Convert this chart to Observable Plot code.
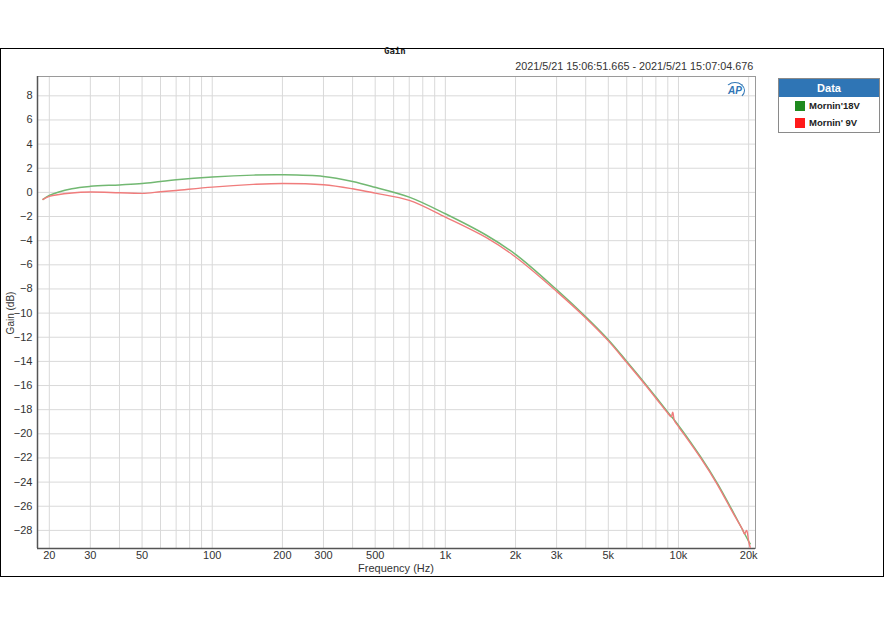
<!DOCTYPE html>
<html>
<head>
<meta charset="utf-8">
<script src="https://cdn.jsdelivr.net/npm/d3@7"></script>
<script src="https://cdn.jsdelivr.net/npm/@observablehq/plot@0.6"></script>
<style>
  body { margin: 0; background: #fff; }
  #wrap { position: relative; width: 889px; height: 630px; font-family: "Liberation Sans", Arial, sans-serif; }
  #wrap svg { position: absolute; left: 0; top: 0; }
  .abs { position: absolute; white-space: nowrap; }
</style>
</head>
<body>
<div id="wrap"></div>
<script>
// ---- data ----
const freqs18 = [18.8, 20, 25, 30, 40, 50, 60, 70, 100, 150, 200, 300, 400, 500, 700, 1000, 1500, 2000, 3000, 4000, 5000, 6000, 7000, 8000, 9000, 10000, 12440, 14680, 17300, 20000, 20300];
const gain18  = [-0.58, -0.25, 0.3, 0.5, 0.62, 0.73, 0.9, 1.04, 1.27, 1.43, 1.46, 1.32, 0.9, 0.42, -0.39, -1.77, -3.55, -5.13, -8.05, -10.3, -12.2, -14.0, -15.55, -16.95, -18.2, -19.3, -21.9, -24.1, -26.6, -28.9, -29.1];

const freqs9 = [18.8, 20, 25, 30, 40, 50, 60, 70, 100, 150, 200, 300, 400, 500, 700, 1000, 1500, 2000, 3000, 4000, 5000, 6000, 7000, 8000, 9000, 9300, 9450, 9600, 10000, 12440, 14680, 17300, 18800, 19200, 19600, 20000, 20300];
const gain9  = [-0.58, -0.33, -0.05, 0.03, -0.03, -0.08, 0.05, 0.16, 0.44, 0.66, 0.74, 0.63, 0.3, -0.06, -0.66, -2.04, -3.75, -5.35, -8.2, -10.4, -12.3, -14.1, -15.65, -17.05, -18.3, -18.6, -18.2, -18.9, -19.4, -22.0, -24.2, -26.7, -27.9, -28.3, -28.0, -28.9, -29.4];

const xTicks = [20, 30, 50, 100, 200, 300, 500, 1000, 2000, 3000, 5000, 10000, 20000];
const xTickLabels = ["20", "30", "50", "100", "200", "300", "500", "1k", "2k", "3k", "5k", "10k", "20k"];
const xGrid = [20, 30, 40, 50, 60, 70, 80, 90, 100, 200, 300, 400, 500, 600, 700, 800, 900, 1000, 2000, 3000, 4000, 5000, 6000, 7000, 8000, 9000, 10000, 20000];
const yTicks = [8, 6, 4, 2, 0, -2, -4, -6, -8, -10, -12, -14, -16, -18, -20, -22, -24, -26, -28];

const seriesNames = ["Mornin'18V", "Mornin' 9V"];
const seriesColors = ["#72b872", "#f07c7c"];

const title = "Gain";
const timeStamp = "2021/5/21 15:06:51.665 - 2021/5/21 15:07:04.676";
const xLabel = "Frequency (Hz)";
const yLabel = "Gain (dB)";

// ---- build ----
const d18 = freqs18.map((f, i) => ({f, g: gain18[i], s: seriesNames[0]}));
const d9 = freqs9.map((f, i) => ({f, g: gain9[i], s: seriesNames[1]}));
const xTickData = xTicks.map((t, i) => ({t, label: xTickLabels[i]}));
const xDomain = [17.8, 21400];
const yDomain = [-29.5, 9.6];

const chart = Plot.plot({
  width: 889,
  height: 630,
  marginLeft: 37,
  marginRight: 134,
  marginTop: 76,
  marginBottom: 82,
  style: {fontFamily: "'Liberation Sans', Arial, sans-serif", fontSize: "11px", color: "#333", background: "transparent"},
  x: {type: "log", domain: xDomain, axis: null},
  y: {domain: yDomain},
  marks: [
    Plot.gridX(xGrid, {stroke: "#d9d9d9", strokeOpacity: 1, strokeWidth: 1}),
    Plot.gridY(yTicks, {stroke: "#d9d9d9", strokeOpacity: 1, strokeWidth: 1}),
    Plot.frame({stroke: "#9a9a9a", strokeWidth: 1}),
    Plot.ruleX([xDomain[0]], {stroke: "#555", strokeWidth: 1.5}),
    Plot.ruleY([yDomain[0]], {stroke: "#555", strokeWidth: 1.5}),
    Plot.text(xTickData, {x: "t", text: "label", frameAnchor: "bottom", dy: 10, fill: "#333", fontSize: 11}),
    Plot.axisY(yTicks, {tickSize: 0, tickPadding: 5, label: null, fill: "#333", fontSize: 11}),
    Plot.line(d18, {x: "f", y: "g", stroke: seriesColors[0], strokeWidth: 1.5, curve: "catmull-rom"}),
    Plot.line(d9, {x: "f", y: "g", stroke: seriesColors[1], strokeWidth: 1.4, curve: "catmull-rom"})
  ]
});

const wrap = document.getElementById("wrap");
wrap.appendChild(chart);

function addDiv(html, css) {
  const d = document.createElement("div");
  d.className = "abs";
  d.innerHTML = html;
  Object.assign(d.style, css);
  wrap.appendChild(d);
  return d;
}

// outer box
addDiv("", {left: "0px", top: "48px", width: "884px", height: "529px", border: "1px solid #000", boxSizing: "border-box"});
// title
addDiv(title, {left: "384px", top: "46px", fontFamily: "'DejaVu Sans Mono', monospace", fontSize: "9px", fontWeight: "bold", color: "#222"});
// timestamp
addDiv(timeStamp, {right: (889 - 753) + "px", top: "60px", fontSize: "11.5px", color: "#333", transform: "scaleX(0.94)", transformOrigin: "right center"});
// axis labels
addDiv(xLabel, {left: "396px", top: "562px", transform: "translateX(-50%)", fontSize: "11px", color: "#333"});
addDiv(yLabel, {left: "10px", top: "313px", transform: "translate(-50%,-50%) rotate(-90deg)", fontSize: "10px", color: "#333"});
// AP logo
addDiv("<span style='font-style:italic;font-weight:bold;'>AP</span>", {left: "725px", top: "82px", width: "18px", height: "15px", lineHeight: "15px", textAlign: "center", fontSize: "10px", color: "#2f75b5", border: "1.5px solid #2f75b5", borderRadius: "50%", borderLeftColor: "transparent", borderBottomColor: "transparent"});

// legend
const leg = addDiv("", {left: "778px", top: "78px", width: "102px", height: "55px", border: "1px solid #8a8a8a", background: "#fff", boxSizing: "border-box"});
const head = document.createElement("div");
Object.assign(head.style, {background: "#2f75b5", color: "#fff", fontWeight: "bold", fontSize: "11px", textAlign: "center", height: "18px", lineHeight: "18px"});
head.textContent = "Data";
leg.appendChild(head);
seriesNames.forEach((name, i) => {
  const row = document.createElement("div");
  Object.assign(row.style, {display: "flex", alignItems: "center", height: "17px", paddingLeft: "16px", fontSize: "9.5px", fontWeight: "bold", color: "#222"});
  const sw = document.createElement("span");
  Object.assign(sw.style, {display: "inline-block", width: "10px", height: "10px", background: i === 0 ? "#1f8a1f" : "#ff1a1a", marginRight: "4px"});
  row.appendChild(sw);
  row.appendChild(document.createTextNode(name));
  leg.appendChild(row);
});
</script>
</body>
</html>
